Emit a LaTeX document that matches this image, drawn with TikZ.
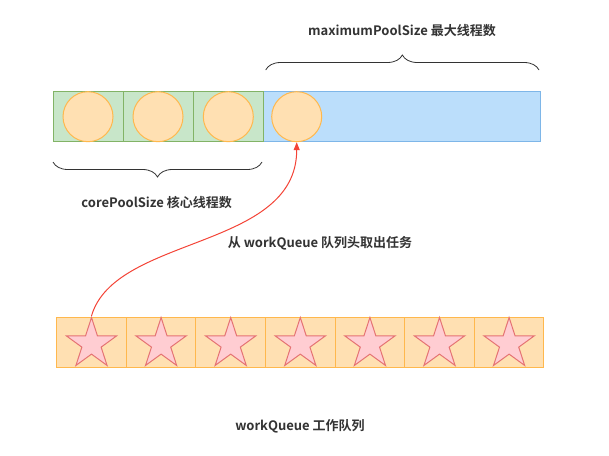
\documentclass[tikz,border=0pt]{standalone}
\usepackage{fontspec}
\setmainfont{Noto Sans CJK SC}[BoldFont={* Bold}]
\usepackage{tikz}
\usetikzlibrary{shapes.geometric,decorations.pathreplacing,arrows.meta}

\definecolor{coreFill}{HTML}{C8E6C9}
\definecolor{coreLine}{HTML}{82B366}
\definecolor{poolFill}{HTML}{BBDEFB}
\definecolor{poolLine}{HTML}{7EB6E8}
\definecolor{taskFill}{HTML}{FFE0B2}
\definecolor{taskLine}{HTML}{FFB84D}
\definecolor{starFill}{HTML}{FFCDD2}
\definecolor{starLine}{HTML}{E57373}
\definecolor{flowRed}{HTML}{F44336}
\definecolor{textGray}{HTML}{333333}

\tikzset{
    corecell/.style={draw=coreLine, fill=coreFill, line width=1pt, minimum width=70pt, minimum height=49.5pt, inner sep=0pt},
    poolbox/.style={draw=poolLine, fill=poolFill, line width=1pt, minimum width=277pt, minimum height=49.5pt, inner sep=0pt},
    worker/.style={circle, draw=taskLine, fill=taskFill, line width=1pt, minimum size=50pt, inner sep=0pt},
    queuecell/.style={draw=taskLine, fill=taskFill, line width=1pt, minimum width=69.6pt, minimum height=49.5pt, inner sep=0pt},
    task/.style={star, star points=5, star point ratio=2.618, draw=starLine, fill=starFill, line width=1pt, minimum size=53pt, inner sep=0pt},
    lbl/.style={text=textGray, font=\bfseries\fontsize{13}{15}\selectfont, inner sep=0pt},
    bracket/.style={draw=textGray, line width=0.8pt, decorate, decoration={brace, amplitude=15pt}},
    flow/.style={draw=flowRed, line width=1pt, -{Triangle[length=8pt, width=6pt]}}
}

\begin{document}
\begin{tikzpicture}[x=1pt, y=-1pt]
    \useasboundingbox [fill=white] (0, 0) rectangle (609, 455);

    % thread pool
    \node [poolbox] (pool) at (401.5, 116.7) {};
    \node [corecell] (c1) at (88.0, 116.7) {};
    \node [corecell] (c2) at (158.0, 116.7) {};
    \node [corecell] (c3) at (228.0, 116.7) {};
    \node [worker] (w1) at (88.0, 116.7) {};
    \node [worker] (w2) at (158.0, 116.7) {};
    \node [worker] (w3) at (228.3, 116.7) {};
    \node [worker] (w4) at (296.7, 116.7) {};

    % braces and their labels
    \draw [bracket] (265.7, 70.0) -- (539.0, 70.0); % maximumPoolSize
    \node [lbl] (maxlabel) at (402.0, 31.0) {maximumPoolSize 最大线程数};
    \draw [bracket] (262.0, 162.0) -- (53.0, 162.0); % corePoolSize
    \node [lbl] (corelabel) at (156.7, 203.0) {corePoolSize 核心线程数};

    % work queue
    \node [queuecell] (q1) at (91.5, 342.3) {};
    \node [queuecell] (q2) at (161.1, 342.3) {};
    \node [queuecell] (q3) at (230.7, 342.3) {};
    \node [queuecell] (q4) at (300.3, 342.3) {};
    \node [queuecell] (q5) at (369.9, 342.3) {};
    \node [queuecell] (q6) at (439.5, 342.3) {};
    \node [queuecell] (q7) at (509.1, 342.3) {};
    \node [task] (s1) at (91.5, 344.0) {};
    \node [task] (s2) at (161.1, 344.0) {};
    \node [task] (s3) at (230.7, 344.0) {};
    \node [task] (s4) at (300.3, 344.0) {};
    \node [task] (s5) at (369.9, 344.0) {};
    \node [task] (s6) at (439.5, 344.0) {};
    \node [task] (s7) at (509.1, 344.0) {};
    \node [lbl] (queuelabel) at (300.0, 426.7) {workQueue 工作队列};

    % take from queue head
    \draw [flow] (s1.north) .. controls (115, 235) and (296.7, 250) .. (w4.south);
    \node [lbl] (takelabel) at (320.0, 243.0) {从 workQueue 队列头取出任务};
\end{tikzpicture}
\end{document}
